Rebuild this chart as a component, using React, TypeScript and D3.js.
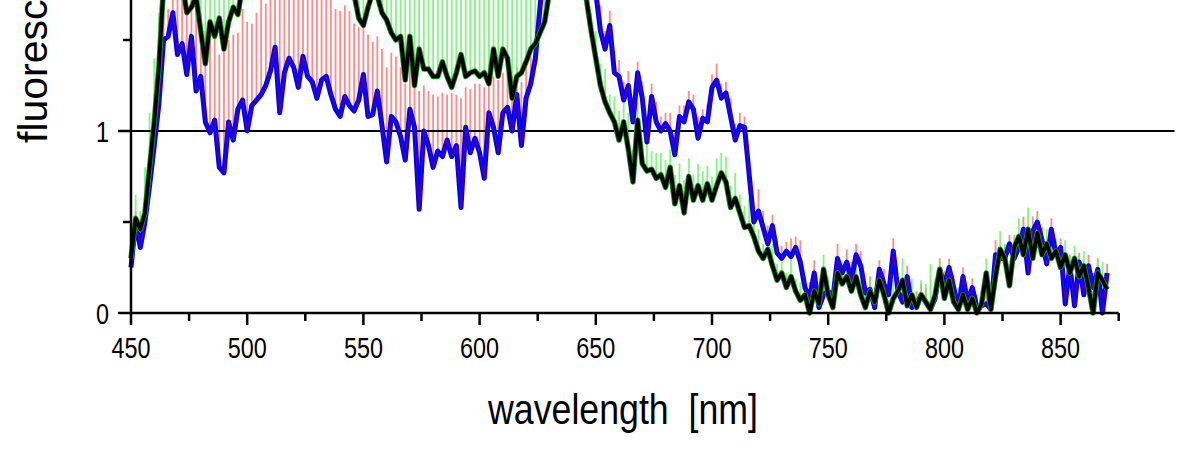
import React from "react";
import * as d3 from "d3";

const wavelengths = [
  450,452,454,456,458,460,462,464,466,468,
  470,472,474,476,478,480,482,484,486,488,
  490,492,494,496,498,500,502,504,506,508,
  510,512,514,516,518,520,522,524,526,528,
  530,532,534,536,538,540,542,544,546,548,
  550,552,554,556,558,560,562,564,566,568,
  570,572,574,576,578,580,582,584,586,588,
  590,592,594,596,598,600,602,604,606,608,
  610,612,614,616,618,620,622,624,626,628,
  630,632,634,636,638,640,642,644,646,648,
  650,652,654,656,658,660,662,664,666,668,
  670,672,674,676,678,680,682,684,686,688,
  690,692,694,696,698,700,702,704,706,708,
  710,712,714,716,718,720,722,724,726,728,
  730,732,734,736,738,740,742,744,746,748,
  750,752,754,756,758,760,762,764,766,768,
  770,772,774,776,778,780,782,784,786,788,
  790,792,794,796,798,800,802,804,806,808,
  810,812,814,816,818,820,822,824,826,828,
  830,832,834,836,838,840,842,844,846,848,
  850,852,854,856,858,860,862,864,866,868,
  870,
];

const blueSeries = [
  0.25,0.50,0.36,0.50,0.70,0.92,1.15,1.50,1.52,1.65,
  1.42,1.48,1.31,1.52,1.22,1.30,1.05,0.99,1.06,0.80,
  0.77,1.05,0.95,1.12,1.17,1.00,1.14,1.17,1.20,1.25,
  1.33,1.46,1.10,1.32,1.40,1.35,1.24,1.41,1.30,1.27,
  1.18,1.28,1.30,1.20,1.12,1.08,1.19,1.14,1.11,1.17,
  1.31,1.08,1.09,1.22,1.03,0.83,1.08,1.05,0.97,0.84,
  1.12,1.02,0.57,1.00,0.92,0.80,0.89,0.86,0.95,0.86,
  0.92,0.58,1.02,0.88,0.96,0.88,0.74,1.10,1.02,0.88,
  1.10,1.13,1.00,1.20,0.92,1.18,1.26,1.40,1.68,1.95,
  2.30,2.60,2.80,2.90,2.80,2.60,2.35,2.10,1.95,1.85,
  1.76,1.55,1.45,1.58,1.32,1.30,1.17,1.25,1.05,1.32,
  1.18,0.94,1.19,1.05,1.00,1.04,1.00,0.87,1.08,1.05,
  1.16,1.12,0.96,1.07,1.05,1.24,1.28,1.18,1.21,1.08,
  0.95,1.03,1.02,0.76,0.50,0.56,0.47,0.38,0.48,0.33,
  0.30,0.34,0.31,0.36,0.28,0.14,0.08,0.22,0.03,0.10,
  0.12,0.08,0.30,0.22,0.28,0.18,0.32,0.26,0.11,0.13,
  0.03,0.24,0.16,0.10,0.34,0.12,0.06,0.20,0.03,0.05,
  0.10,0.06,0.02,0.08,0.24,0.15,0.25,0.14,0.02,0.20,
  0.06,0.14,0.03,0.04,0.05,0.02,0.32,0.30,0.30,0.38,
  0.30,0.36,0.46,0.22,0.45,0.50,0.40,0.27,0.46,0.32,
  0.36,0.05,0.26,0.04,0.28,0.10,0.26,0.14,0.24,0.00,
  0.22,
];

const blackSeries = [
  0.30,0.52,0.46,0.55,0.80,1.05,1.35,1.80,1.95,2.05,
  1.95,1.82,1.65,1.68,1.74,1.55,1.37,1.60,1.52,1.62,
  1.45,1.60,1.68,1.64,1.80,1.90,1.95,2.00,2.05,2.05,
  2.10,2.10,2.05,2.10,2.05,2.00,2.05,2.00,1.95,2.00,
  1.95,1.90,1.92,1.88,1.85,1.85,1.80,1.78,1.75,1.62,
  1.58,1.68,1.76,1.74,1.65,1.61,1.54,1.50,1.52,1.28,
  1.52,1.25,1.45,1.34,1.34,1.30,1.30,1.38,1.30,1.24,
  1.32,1.42,1.30,1.32,1.33,1.30,1.32,1.26,1.45,1.30,
  1.45,1.40,1.18,1.30,1.32,1.38,1.45,1.48,1.54,1.60,
  1.76,2.10,2.50,2.80,2.90,2.70,2.30,1.90,1.72,1.55,
  1.40,1.25,1.16,1.10,1.05,0.95,1.05,0.90,0.72,1.06,
  0.82,0.78,0.79,0.74,0.76,0.69,0.80,0.60,0.70,0.55,
  0.75,0.62,0.70,0.62,0.71,0.62,0.70,0.77,0.72,0.58,
  0.63,0.55,0.47,0.48,0.42,0.34,0.30,0.35,0.26,0.18,
  0.22,0.14,0.20,0.12,0.07,0.10,0.00,0.12,0.05,0.24,
  0.10,0.03,0.22,0.16,0.20,0.12,0.20,0.10,0.03,0.12,
  0.06,0.18,0.10,0.00,0.08,0.12,0.18,0.04,0.10,0.03,
  0.10,0.06,0.02,0.10,0.24,0.08,0.18,0.06,0.02,0.10,
  0.02,0.08,0.00,0.05,0.22,0.02,0.20,0.35,0.30,0.15,
  0.36,0.42,0.32,0.46,0.30,0.44,0.32,0.38,0.30,0.34,
  0.25,0.32,0.22,0.30,0.20,0.26,0.14,0.00,0.22,0.18,
  0.13,
];

// upward error bars (red belongs to the blue trace, green to the black trace)
const redError = [
  0.04,0.06,0.05,0.12,0.10,0.15,0.12,0.12,0.15,0.10,
  0.35,0.38,0.42,0.30,0.45,0.35,0.50,0.55,0.48,0.62,
  0.70,0.45,0.58,0.42,0.50,0.60,0.45,0.48,0.52,0.45,
  0.48,0.40,0.65,0.50,0.45,0.50,0.55,0.45,0.52,0.55,
  0.58,0.50,0.52,0.60,0.55,0.58,0.50,0.52,0.48,0.40,
  0.30,0.45,0.40,0.30,0.42,0.52,0.35,0.36,0.38,0.42,
  0.25,0.30,0.65,0.25,0.30,0.40,0.30,0.35,0.25,0.35,
  0.28,0.60,0.22,0.35,0.30,0.38,0.50,0.18,0.28,0.40,
  0.22,0.18,0.30,0.15,0.35,0.18,0.15,0.10,0.08,0.10,
  0.10,0.10,0.10,0.10,0.10,0.10,0.10,0.10,0.10,0.10,
  0.12,0.14,0.10,0.08,0.12,0.09,0.10,0.08,0.13,0.06,
  0.09,0.10,0.07,0.11,0.08,0.06,0.10,0.12,0.06,0.09,
  0.06,0.08,0.12,0.05,0.10,0.07,0.09,0.08,0.06,0.10,
  0.09,0.07,0.06,0.10,0.08,0.12,0.09,0.10,0.06,0.08,
  0.07,0.05,0.10,0.06,0.12,0.06,0.09,0.07,0.05,0.08,
  0.06,0.09,0.08,0.05,0.07,0.10,0.06,0.08,0.05,0.07,
  0.06,0.05,0.08,0.06,0.07,0.05,0.08,0.06,0.04,0.07,
  0.06,0.08,0.05,0.07,0.06,0.08,0.05,0.07,0.06,0.05,
  0.07,0.05,0.06,0.08,0.05,0.06,0.08,0.06,0.07,0.05,
  0.06,0.08,0.07,0.05,0.08,0.06,0.07,0.05,0.06,0.07,
  0.05,0.07,0.06,0.08,0.05,0.07,0.06,0.08,0.06,0.07,
  0.05,
];

const greenError = [
  0.05,0.13,0.10,0.25,0.30,0.35,0.30,0.30,0.30,0.30,
  0.30,0.40,0.45,0.50,0.40,0.45,0.50,0.40,0.45,0.40,
  0.50,0.45,0.40,0.45,0.40,0.40,0.40,0.40,0.40,0.40,
  0.55,0.60,0.52,0.58,0.62,0.55,0.60,0.50,0.58,0.55,
  0.60,0.52,0.58,0.55,0.62,0.50,0.56,0.60,0.54,0.58,
  0.55,0.60,0.52,0.58,0.62,0.55,0.60,0.50,0.58,0.55,
  0.60,0.52,0.58,0.55,0.62,0.50,0.56,0.60,0.54,0.58,
  0.55,0.60,0.52,0.58,0.62,0.55,0.60,0.50,0.58,0.55,
  0.60,0.52,0.58,0.55,0.62,0.50,0.56,0.60,0.54,0.58,
  0.10,0.10,0.10,0.10,0.10,0.10,0.10,0.10,0.10,0.10,
  0.15,0.12,0.18,0.10,0.14,0.16,0.12,0.20,0.18,0.10,
  0.12,0.16,0.10,0.14,0.12,0.15,0.10,0.16,0.12,0.18,
  0.10,0.14,0.12,0.16,0.10,0.13,0.15,0.11,0.14,0.12,
  0.14,0.10,0.12,0.15,0.10,0.12,0.08,0.10,0.12,0.09,
  0.10,0.08,0.12,0.07,0.10,0.08,0.12,0.06,0.09,0.08,
  0.10,0.07,0.09,0.12,0.08,0.06,0.10,0.08,0.11,0.07,
  0.08,0.06,0.09,0.07,0.10,0.08,0.12,0.06,0.09,0.07,
  0.08,0.10,0.25,0.09,0.06,0.08,0.10,0.07,0.12,0.08,
  0.09,0.07,0.10,0.06,0.08,0.09,0.07,0.10,0.08,0.12,
  0.07,0.10,0.08,0.12,0.06,0.09,0.11,0.08,0.10,0.07,
  0.12,0.08,0.10,0.07,0.11,0.08,0.09,0.12,0.07,0.10,
  0.08,
];

const xMajorTicks = [450, 500, 550, 600, 650, 700, 750, 800, 850];
const xMinorTicks = [475, 525, 575, 625, 675, 725, 775, 825, 875];
const yMajorTicks = [0, 1, 2];
const yLabelTicks = [0, 1];
const yMinorTicks = [0.5, 1.5, 2.5];
const referenceLevel = 1;
const referenceSpan = [450, 899];
const xDomain = [450, 875];
const yDomainTop = 3;
const xTitle = "wavelength  [nm]";
const yTitle = "fluorescence";

const W = 1200;
const H = 449;
const X0 = 131;
const X1 = 1118.7;
const Y0 = 313;
const Y1 = 131;

export default function App() {
  const x = d3.scaleLinear().domain(xDomain).range([X0, X1]);
  const y = d3.scaleLinear().domain([0, 1]).range([Y0, Y1]);

  const pts = wavelengths.map((w, i) => ({
    w,
    b: blueSeries[i],
    k: blackSeries[i],
    re: redError[i],
    ge: greenError[i],
  }));

  const blueLine = d3
    .line<any>()
    .x((d) => x(d.w))
    .y((d) => y(d.b))(pts) as string;
  const blackLine = d3
    .line<any>()
    .x((d) => x(d.w))
    .y((d) => y(d.k))(pts) as string;

  const font = "'Liberation Sans', Arial, sans-serif";

  return (
    <svg
      width={W}
      height={H}
      viewBox={`0 0 ${W} ${H}`}
      style={{ position: "absolute", left: 0, top: 0, background: "#fff" }}
    >
      <rect x={0} y={0} width={W} height={H} fill="#fff" />
      {/* error bars */}
      <g stroke="#ff6e6e" strokeWidth={1.8} opacity={0.8}>
        {pts.map((d, i) => (
          <line key={"r" + i} x1={x(d.w)} x2={x(d.w)} y1={y(d.b)} y2={y(d.b + d.re)} />
        ))}
      </g>
      <g stroke="#66f266" strokeWidth={1.8} opacity={0.8}>
        {pts.map((d, i) => (
          <line key={"g" + i} x1={x(d.w)} x2={x(d.w)} y1={y(d.k)} y2={y(d.k + d.ge)} />
        ))}
      </g>
      {/* reference line at 1 */}
      <line
        x1={x(referenceSpan[0])}
        x2={x(referenceSpan[1])}
        y1={y(referenceLevel)}
        y2={y(referenceLevel)}
        stroke="#000"
        strokeWidth={2}
      />
      {/* traces */}
      <path d={blueLine} fill="none" stroke="#0000ff" strokeWidth={5} strokeLinejoin="round" />
      <path d={blueLine} fill="none" stroke="#a00040" strokeWidth={1} strokeLinejoin="round" opacity={0.6} />
      <path d={blackLine} fill="none" stroke="#1a9a1a" strokeWidth={5.5} strokeLinejoin="round" />
      <path d={blackLine} fill="none" stroke="#000" strokeWidth={3.8} strokeLinejoin="round" />

      {/* axes */}
      <line x1={X0} x2={X1} y1={Y0} y2={Y0} stroke="#000" strokeWidth={2.5} />
      <line x1={X0} x2={X0} y1={Y0 + 1} y2={y(yDomainTop)} stroke="#000" strokeWidth={2.5} />
      {xMajorTicks.map((t) => (
        <g key={"xm" + t}>
          <line x1={x(t)} x2={x(t)} y1={Y0} y2={Y0 + 12} stroke="#000" strokeWidth={2.5} />
          <text
            transform={`translate(${x(t)},358) scale(0.78,1)`}
            textAnchor="middle"
            fontFamily={font}
            fontSize={30}
            fill="#000"
          >
            {t}
          </text>
        </g>
      ))}
      {xMinorTicks.map((t) => (
        <line key={"xn" + t} x1={x(t)} x2={x(t)} y1={Y0} y2={Y0 + 8} stroke="#000" strokeWidth={2.5} />
      ))}
      {yMajorTicks.map((t) => (
        <line key={"ym" + t} x1={X0 - 13} x2={X0} y1={y(t)} y2={y(t)} stroke="#000" strokeWidth={2.5} />
      ))}
      {yLabelTicks.map((t) => (
        <text
          key={"yl" + t}
          transform={`translate(109,${y(t) + 10.5}) scale(0.78,1)`}
          textAnchor="end"
          fontFamily={font}
          fontSize={30}
          fill="#000"
        >
          {t}
        </text>
      ))}
      {yMinorTicks.map((t) => (
        <line key={"yn" + t} x1={X0 - 8} x2={X0} y1={y(t)} y2={y(t)} stroke="#000" strokeWidth={2.5} />
      ))}
      <text
        transform="translate(623,424) scale(0.85,1)"
        textAnchor="middle"
        fontFamily={font}
        fontSize={42}
        fill="#000"
        style={{ whiteSpace: "pre" }}
      >
        {xTitle}
      </text>
      <text
        transform={`translate(47,143) rotate(-90)`}
        textAnchor="start"
        fontFamily={font}
        fontSize={41}
        fill="#000"
      >
        {yTitle}
      </text>
    </svg>
  );
}
